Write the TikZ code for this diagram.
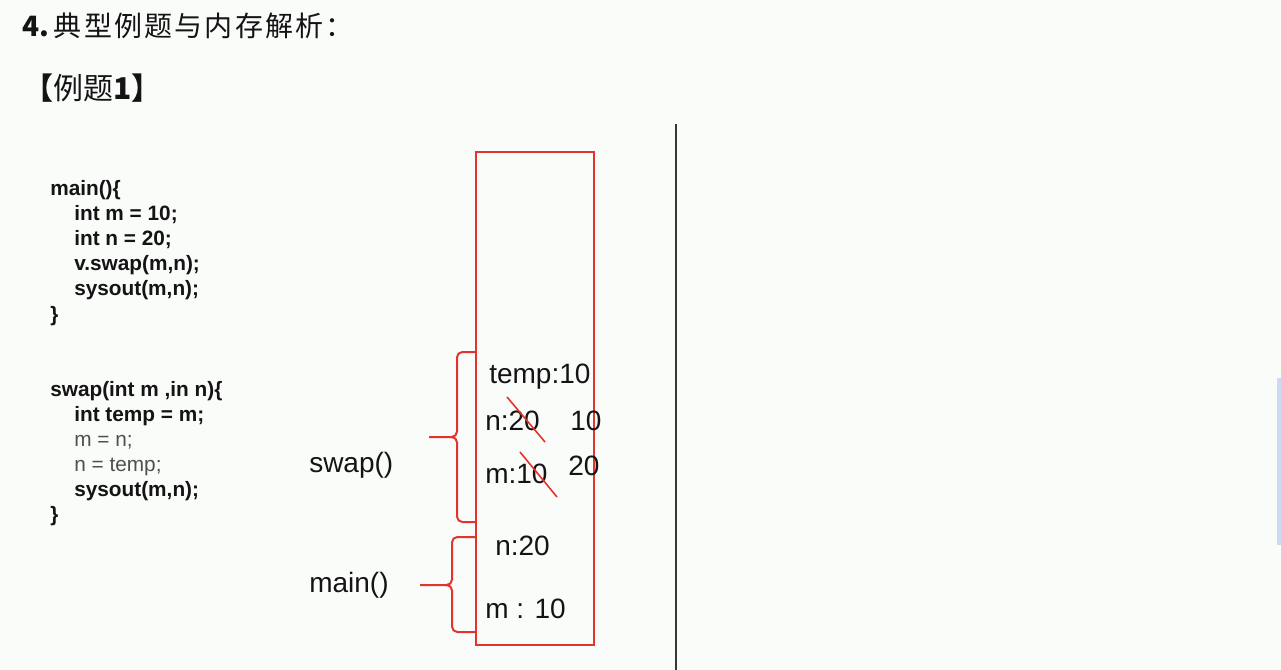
\documentclass[tikz,border=0pt]{standalone}
\usepackage{fontspec}
\setmainfont{Liberation Sans}
\newfontfamily\cjk{Noto Sans CJK SC}
\definecolor{bg}{RGB}{250,252,250}
\definecolor{memred}{RGB}{226,52,44}
\definecolor{ink}{RGB}{20,20,20}
\definecolor{thumb}{RGB}{205,218,245}
\begin{document}
\begin{tikzpicture}[x=0.75pt,y=-0.75pt,
  code/.style={anchor=base west,inner sep=0,font=\fontsize{15.6}{17}\selectfont\bfseries,text=ink},
  codethin/.style={anchor=base west,inner sep=0,font=\fontsize{15.6}{17}\selectfont,text=ink!75},
  lab/.style={anchor=base west,inner sep=0,font=\fontsize{21}{24}\selectfont,text=ink},
  redline/.style={draw=memred,line width=1.5pt},
  brace/.style={redline,rounded corners=4pt},
  strike/.style={draw=memred,line width=1.2pt}]
% background / bounding box
\fill[bg] (0,0) rectangle (1281,670);
\useasboundingbox (0,0) rectangle (1281,670);
\fill[thumb] (1277,378) rectangle (1281,545);

% headings
\node (title) [anchor=west,inner sep=0,font=\cjk\fontsize{21}{24}\selectfont,text=ink] at (22,26)
  {\textbf{4.}\,{\addfontfeature{LetterSpace=8}典型例题与内存解析：}};
\node (ex) [anchor=west,inner sep=0,font=\cjk\fontsize{22.5}{26}\selectfont,text=ink] at (23,88) {\textbf{【}例题\textbf{1】}};

% code
\node (c1) [code] at (50,196) {main()\{};
\node (c2) [code] at (74,221) {int m = 10;};
\node (c3) [code] at (74,246) {int n = 20;};
\node (c4) [code] at (74,271) {v.swap(m,n);};
\node (c5) [code] at (74,296) {sysout(m,n);};
\node (c6) [code] at (50,321) {\}};
\node (s1) [code] at (50,396) {swap(int m ,in n)\{};
\node (s2) [code] at (74,421) {int temp = m;};
\node (s3) [codethin] at (74,446) {m = n;};
\node (s4) [codethin] at (74,471) {n = temp;};
\node (s5) [code] at (74,496) {sysout(m,n);};
\node (s6) [code] at (50,521) {\}};

% divider
\coordinate (divtop) at (676,124);
\coordinate (divbot) at (676,670);
\draw[draw=ink!85,line width=1.5pt] (divtop) -- (divbot);

% stack box
\node (stack) [redline,anchor=north west,inner sep=0,minimum width=88.5pt,minimum height=369.75pt] at (475,151) {};

% braces
\coordinate (sw1) at (475,352);
\coordinate (sw2) at (475,522);
\coordinate (swtip) at (429,437);
\draw[brace] (sw1) -- (457,352) -- (457,437) -- (swtip);
\draw[brace] (sw2) -- (457,522) -- (457,437) -- (450,437);
\coordinate (mn1) at (475,537);
\coordinate (mn2) at (475,632);
\coordinate (mntip) at (420,585);
\draw[brace] (mn1) -- (452,537) -- (452,585) -- (mntip);
\draw[brace] (mn2) -- (452,632) -- (452,585) -- (445,585);

% frame labels
\node (swapl) [lab] at (309,472) {swap()};
\node (mainl) [lab] at (309,592) {main()};

% stack contents
\node (temp) [lab] at (489,383) {temp:10};
\node (sn) [lab] at (485,430) {n:20};
\node (sn2) [lab] at (570,430) {10};
\node (sm) [lab] at (485,483) {m:10};
\node (sm2) [lab] at (568,475) {20};
\node (mn) [lab] at (495,555) {n:20};
\node (mm) [lab] at (485,618) {m : 10};

% strike-outs
\coordinate (k1a) at (507,397);
\coordinate (k1b) at (545,442);
\coordinate (k2a) at (520,452);
\coordinate (k2b) at (557,497);
\draw[strike] (k1a) -- (k1b);
\draw[strike] (k2a) -- (k2b);
\end{tikzpicture}
\end{document}
